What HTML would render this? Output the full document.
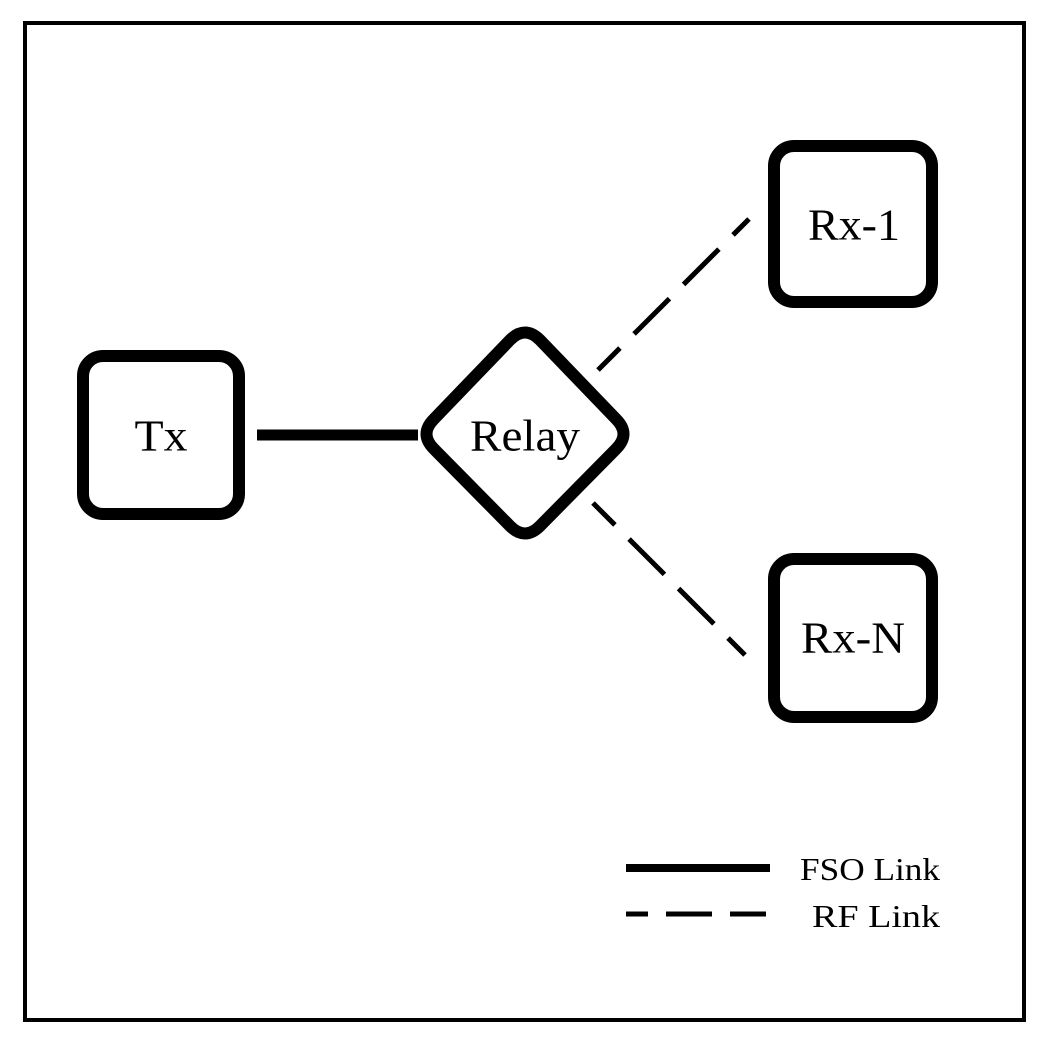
<!DOCTYPE html>
<html><head><style>body{margin:0;background:#fff}svg{display:block}</style></head><body>
<svg width="1052" height="1049" viewBox="0 0 1052 1049" xmlns="http://www.w3.org/2000/svg">
<rect x="0" y="0" width="1052" height="1049" fill="#fff"/>
<rect x="25" y="23" width="999" height="997" fill="none" stroke="#000" stroke-width="4"/>
<g fill="none" stroke="#000" stroke-width="12">
<rect x="83" y="356" width="156" height="158" rx="20"/>
<rect x="774" y="146" width="158" height="156" rx="20"/>
<rect x="774" y="559" width="158" height="158" rx="20"/>
<path d="M510,340 Q525,325 540,340 L616,419 Q631,434 616,449 L540,526 Q525,541 510,526 L434,449 Q419,434 434,419 Z" stroke-linejoin="round"/>
</g>
<line x1="257" y1="435" x2="418" y2="435" stroke="#000" stroke-width="11"/>
<line x1="598" y1="370" x2="749" y2="219" stroke="#000" stroke-width="5" stroke-dasharray="50 20" stroke-dashoffset="19"/>
<line x1="593" y1="503" x2="745" y2="655" stroke="#000" stroke-width="5" stroke-dasharray="50 20" stroke-dashoffset="19"/>
<line x1="626" y1="868" x2="770" y2="868" stroke="#000" stroke-width="8"/>
<line x1="626" y1="914" x2="766" y2="914" stroke="#000" stroke-width="5" stroke-dasharray="46 18" stroke-dashoffset="24"/>
<g font-family="Liberation Serif, serif" fill="#000" text-anchor="middle" dominant-baseline="central" font-size="44">
<text x="161" y="436" textLength="53" lengthAdjust="spacingAndGlyphs">Tx</text>
<text x="525" y="436" textLength="110" lengthAdjust="spacingAndGlyphs">Relay</text>
<text x="854" y="225" textLength="92" lengthAdjust="spacingAndGlyphs">Rx-1</text>
<text x="853" y="638" textLength="104" lengthAdjust="spacingAndGlyphs">Rx-N</text>
</g>
<g font-family="Liberation Serif, serif" fill="#000" text-anchor="end" font-size="32">
<text x="940" y="880" textLength="140" lengthAdjust="spacingAndGlyphs">FSO Link</text>
<text x="940" y="927" textLength="128" lengthAdjust="spacingAndGlyphs">RF Link</text>
</g>
</svg>
</body></html>
